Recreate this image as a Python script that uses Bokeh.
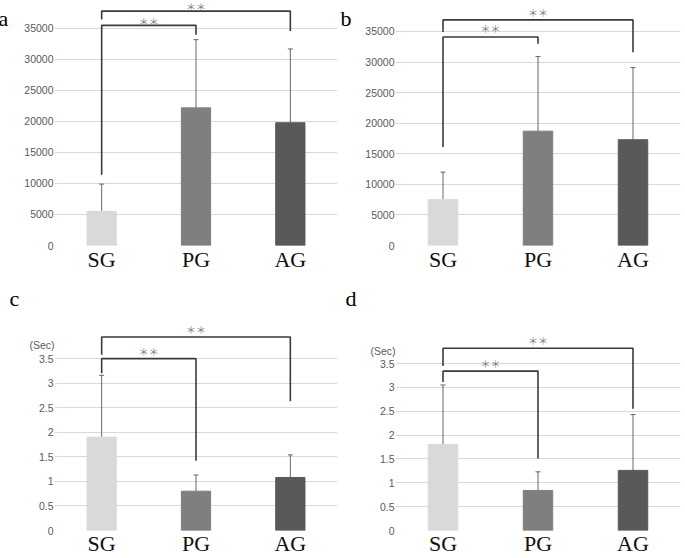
from bokeh.plotting import figure
from bokeh.models import (FactorRange, Range1d, FixedTicker, Whisker, TeeHead,
                          ColumnDataSource, Label)
from bokeh.layouts import gridplot
from bokeh.embed import file_html
from bokeh.resources import INLINE

# ---------------- data ----------------
categories = ["SG", "PG", "AG"]
bar_colors = ["#d9d9d9", "#7f7f7f", "#595959"]

# panel a
a_mean = [5500, 22200, 19800]
a_sd = [4400, 11000, 11900]
# panel b
b_mean = [7500, 18700, 17300]
b_sd = [4500, 12200, 11800]
# panel c (sec)
c_mean = [1.90, 0.80, 1.08]
c_sd = [1.26, 0.33, 0.46]
# panel d (sec)
d_mean = [1.80, 0.84, 1.26]
d_sd = [1.25, 0.39, 1.17]

count_ticks = [0, 5000, 10000, 15000, 20000, 25000, 30000, 35000]
count_tick_labels = ["0", "5000", "10000", "15000", "20000", "25000", "30000", "35000"]
sec_ticks = [0, 0.5, 1, 1.5, 2, 2.5, 3, 3.5]
sec_tick_labels = ["0", "0.5", "1", "1.5", "2", "2.5", "3", "3.5"]

# significance brackets: [start on SG, bracket level, end on other group]
a_inner = [11400, 35500, 34000]   # SG vs PG
a_outer = [36450, 37800, 34600]   # SG vs AG
b_inner = [16100, 34100, 33000]
b_outer = [34900, 36900, 31600]
c_inner = [3.20, 3.50, 1.42]
c_outer = [3.58, 3.94, 2.63]
d_inner = [3.11, 3.34, 1.51]
d_outer = [3.45, 3.82, 2.55]
sig_text = "＊＊"


def panel(letter, mean, sd, inner, outer, ticks, tick_labels, y_end,
          width, height, bl, br, bb, standoff, line_h, letter_dx, letter_dy,
          star_dy_inner, star_dy_outer, unit_label=None, unit_dy=0):
    p = figure(x_range=FactorRange(factors=categories),
               y_range=Range1d(0, y_end),
               width=width, height=height,
               min_border_left=bl, min_border_right=br,
               min_border_top=0, min_border_bottom=bb,
               output_backend="svg", toolbar_location=None,
               background_fill_color="white", border_fill_color="white")
    p.outline_line_color = None

    src = ColumnDataSource(dict(cat=categories, mean=mean,
                                upper=[m + s for m, s in zip(mean, sd)],
                                color=bar_colors))
    p.vbar(x="cat", top="mean", width=0.31, fill_color="color",
           line_color="color", source=src)
    w = Whisker(base="cat", lower="mean", upper="upper", source=src,
                line_color="#666666", line_width=1,
                upper_head=TeeHead(size=5, line_color="#666666", line_width=1),
                lower_head=None)
    p.add_layout(w)

    # brackets
    bcol = "#3a3a3a"
    p.line(x=["SG", "SG", "PG", "PG"],
           y=[inner[0], inner[1], inner[1], inner[2]],
           line_color=bcol, line_width=1.6)
    p.line(x=["SG", "SG", "AG", "AG"],
           y=[outer[0], outer[1], outer[1], outer[2]],
           line_color=bcol, line_width=1.6)
    p.add_layout(Label(x=1.0, y=inner[1], text=sig_text, y_offset=star_dy_inner,
                       text_font="Noto Sans CJK JP", text_font_size="10px",
                       text_color="#808080", text_align="center",
                       text_baseline="middle"))
    p.add_layout(Label(x=1.5, y=outer[1], text=sig_text, y_offset=star_dy_outer,
                       text_font="Noto Sans CJK JP", text_font_size="10px",
                       text_color="#808080", text_align="center",
                       text_baseline="middle"))

    # panel letter (placed in the side panel so it is not clipped to the frame)
    p.add_layout(Label(x=0, y=ticks[-1], x_offset=letter_dx, y_offset=letter_dy,
                       text=letter, text_font="Liberation Serif",
                       text_font_size="22px", text_color="#000000",
                       text_align="left", text_baseline="alphabetic"), "left")
    if unit_label:
        p.add_layout(Label(x=0, y=ticks[-1], x_offset=-12.5, y_offset=unit_dy,
                           text=unit_label, text_font="Liberation Sans",
                           text_font_size="10.5px", text_color="#595959",
                           text_align="center", text_baseline="middle"), "left")

    # axes
    p.xgrid.grid_line_color = None
    p.ygrid.grid_line_color = "#d9d9d9"
    p.ygrid.grid_line_width = 1
    p.yaxis.ticker = FixedTicker(ticks=ticks)
    p.yaxis.major_label_overrides = {t: l for t, l in zip(ticks, tick_labels)}
    p.yaxis.axis_line_color = None
    p.yaxis.major_tick_line_color = None
    p.yaxis.minor_tick_line_color = None
    p.yaxis.major_tick_out = 0
    p.yaxis.major_tick_in = 0
    p.yaxis.major_label_standoff = 1
    p.yaxis.major_label_text_font = "Liberation Sans"
    p.yaxis.major_label_text_font_size = "10.5px"
    p.yaxis.major_label_text_color = "#595959"

    p.xaxis.axis_line_color = None
    p.xaxis.major_tick_line_color = None
    p.xaxis.minor_tick_line_color = None
    p.xaxis.major_tick_out = 0
    p.xaxis.major_tick_in = 0
    p.xaxis.major_label_standoff = standoff
    p.xaxis.major_label_text_line_height = line_h
    p.xaxis.major_label_text_font = "Liberation Serif"
    p.xaxis.major_label_text_font_size = "22px"
    p.xaxis.major_label_text_color = "#111111"
    return p


pa = panel("a", a_mean, a_sd, a_inner, a_outer, count_ticks, count_tick_labels,
           39516, 340, 280, 51, 0, 35, 1, 1.2, -56, 9.7, 4.3, 4.5)
pb = panel("b", b_mean, b_sd, b_inner, b_outer, count_ticks, count_tick_labels,
           40070, 345, 280, 48, 0, 35, 1, 1.2, -55, 12.7, 8.4, 7.6)
pc = panel("c", c_mean, c_sd, c_inner, c_outer, sec_ticks, sec_tick_labels,
           5.091, 340, 278, 50, 3, 22, 0, 0.9, -45, 60, 7.3, 7.7, "(Sec)", 13.5)
pd_ = panel("d", d_mean, d_sd, d_inner, d_outer, sec_ticks, sec_tick_labels,
            5.240, 345, 278, 50, 5, 22, 0, 0.9, -50, 65, 7.7, 7.6, "(Sec)", 12.2)

grid = gridplot([[pa, pb], [pc, pd_]], toolbar_location=None)
open("out.html", "w").write(file_html(grid, INLINE))
